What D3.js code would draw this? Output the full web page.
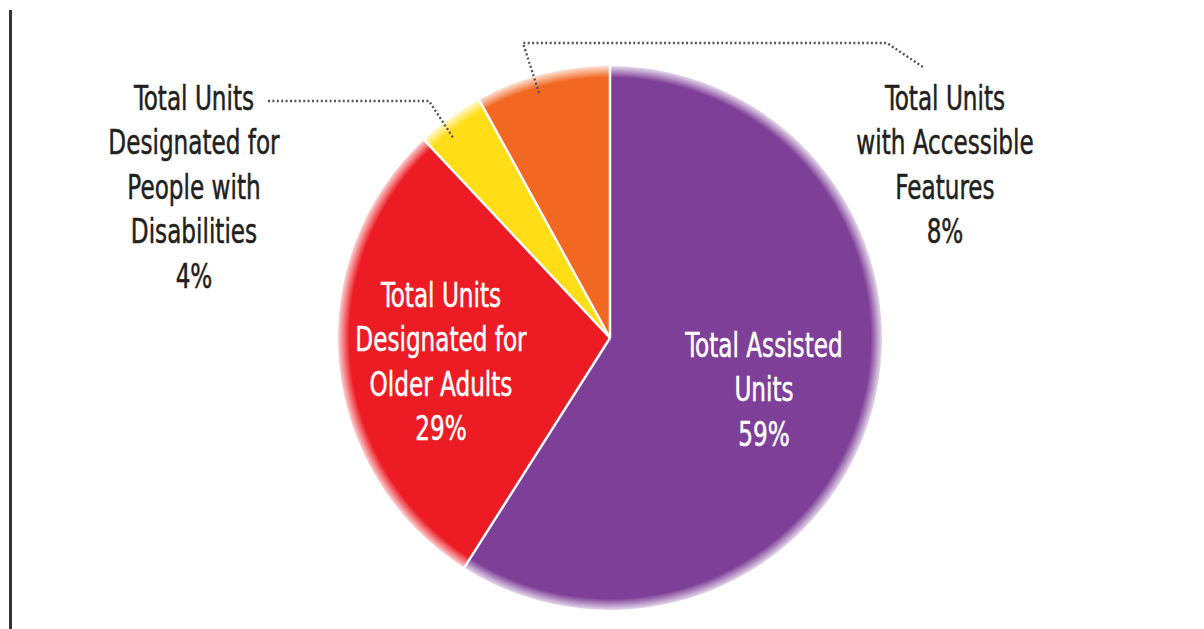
<!DOCTYPE html>
<html><head><meta charset="utf-8">
<script src="https://cdn.jsdelivr.net/npm/d3@7"></script>
<style>
html,body{margin:0;padding:0;background:#fff;}
svg{display:block;}
text{font-family:"Liberation Sans Narrow","DejaVu Sans Condensed","Noto Sans",sans-serif;}
</style></head>
<body>
<svg id="chart" width="1204" height="629"></svg>
<script>
const categories = ["Total Assisted Units", "Total Units Designated for Older Adults", "Total Units Designated for People with Disabilities", "Total Units with Accessible Features"];
const values = [59, 29, 4, 8];
const labelLines = [
  ["Total Assisted", "Units", "59%"],
  ["Total Units", "Designated for", "Older Adults", "29%"],
  ["Total Units", "Designated for", "People with", "Disabilities", "4%"],
  ["Total Units", "with Accessible", "Features", "8%"]
];
const colors = ["#7E3F98", "#ED1C24", "#FFDE17", "#F26722"];

const svg = d3.select("#chart");
const W = 1204, H = 629;
const cx = 610, cy = 338, R = 272;

// left rule
svg.append("line").attr("x1", 10.5).attr("x2", 10.5).attr("y1", 10).attr("y2", H)
  .attr("stroke", "#333").attr("stroke-width", 3);

const defs = svg.append("defs");
colors.forEach((c, i) => {
  const g = defs.append("radialGradient").attr("id", "grad" + i)
    .attr("gradientUnits", "userSpaceOnUse")
    .attr("cx", 0).attr("cy", 0).attr("r", R);
  g.append("stop").attr("offset", "0").attr("stop-color", c).attr("stop-opacity", 1);
  g.append("stop").attr("offset", "0.958").attr("stop-color", c).attr("stop-opacity", 1);
  g.append("stop").attr("offset", "1").attr("stop-color", c).attr("stop-opacity", 0.2);
});

const pie = d3.pie().sort(null).value(d => d)(values);
const arc = d3.arc().innerRadius(0).outerRadius(R);

const gp = svg.append("g").attr("transform", `translate(${cx},${cy})`);
gp.selectAll("path").data(pie).join("path")
  .attr("d", arc)
  .attr("fill", (d, i) => `url(#grad${i})`);
// white separators
gp.selectAll("line.sep").data(pie).join("line").attr("class", "sep")
  .attr("x1", 0).attr("y1", 0)
  .attr("x2", d => R * Math.sin(d.startAngle))
  .attr("y2", d => -R * Math.cos(d.startAngle))
  .attr("stroke", "#fff").attr("stroke-width", 2.5);

// leaders
const leaders = [
  [[268, 101], [429, 101], [454, 139]],
  [[539, 93], [523, 43], [887, 43], [923, 67]]
];
leaders.forEach(pts => {
  svg.append("path").attr("d", d3.line()(pts))
    .attr("fill", "none").attr("stroke", "#555").attr("stroke-width", 2.4)
    .attr("stroke-dasharray", "2,2.4");
});

// labels
const anchors = [
  {x: 764, y: 357, fill: "#fff"},
  {x: 441, y: 307, fill: "#fff"},
  {x: 194, y: 110, fill: "#231f20"},
  {x: 945, y: 110, fill: "#231f20"}
];
const lh = 44.5;
const sx = 0.78;
labelLines.forEach((lines, i) => {
  const a = anchors[i];
  const t = svg.append("text").attr("text-anchor", "middle")
    .attr("transform", `translate(${a.x},${a.y}) scale(${sx},1)`)
    .attr("fill", a.fill).attr("font-size", 33)
    .attr("stroke", a.fill).attr("stroke-width", 0.5);
  lines.forEach((s, j) => {
    t.append("tspan").attr("x", 0).attr("y", j * lh).text(s);
  });
});
</script>
</body></html>
